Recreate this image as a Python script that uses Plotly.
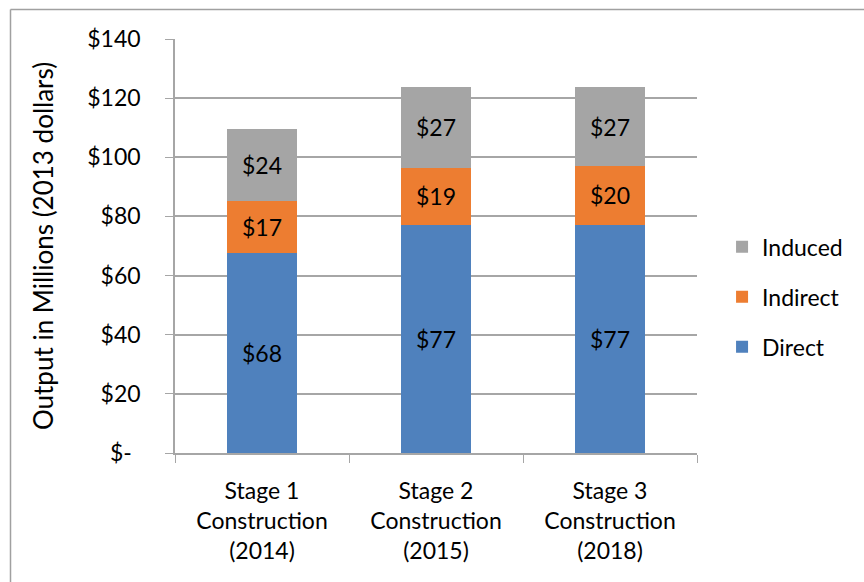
import plotly.graph_objects as go

categories = ["Stage 1<br>Construction<br>(2014)", "Stage 2<br>Construction<br>(2015)", "Stage 3<br>Construction<br>(2018)"]
direct = [67.7, 77.1, 77.1]
indirect = [17.4, 19.4, 20.0]
induced = [24.4, 27.2, 26.6]
ytick_vals = [0, 20, 40, 60, 80, 100, 120, 140]
ytick_text = ["$-\u00a0\u2009", "$20", "$40", "$60", "$80", "$100", "$120", "$140"]

FONT = "Lato"
GRID = "#A6A6A6"

fig = go.Figure()
for name, vals, color, rank in [("Direct", direct, "#4F81BD", 3),
                                ("Indirect", indirect, "#ED7D31", 2),
                                ("Induced", induced, "#A5A5A5", 1)]:
    fig.add_trace(go.Bar(
        x=categories, y=vals, name=name, legendgroup=name, legendrank=rank,
        marker=dict(color=color, line=dict(width=0)),
        texttemplate="$%{y:.0f}", textposition="inside",
        insidetextanchor="middle",
        textfont=dict(family=FONT, size=23, color="black"),
    ))

fig.update_layout(
    width=864, height=582,
    barmode="stack", bargap=0.6,
    margin=dict(l=175, r=167, t=39, b=129, autoexpand=False),
    paper_bgcolor="white", plot_bgcolor="white",
    font=dict(family=FONT, size=23, color="black"),
    uniformtext=dict(minsize=10, mode="show"),
    legend=dict(
        x=1.048, y=0.377, xanchor="left", yanchor="middle",
        traceorder="grouped", font=dict(family=FONT, size=23),
        itemwidth=30, tracegroupgap=17,
    ),
    shapes=[
        dict(type="line", xref="paper", yref="paper",
             x0=(10.5 - 175) / 522, x1=(870 - 175) / 522,
             y0=(453 - 9.5) / 414, y1=(453 - 9.5) / 414,
             line=dict(color="#A0A0A0", width=1.5)),
        dict(type="line", xref="paper", yref="paper",
             x0=(10.5 - 175) / 522, x1=(10.5 - 175) / 522,
             y0=(453 - 9.5) / 414, y1=(453 - 590) / 414,
             line=dict(color="#A0A0A0", width=1.5)),
    ],
)

fig.update_xaxes(
    showline=True, linecolor=GRID, linewidth=1.5,
    ticks="outside", tickson="boundaries", ticklen=8, tickcolor=GRID,
    tickfont=dict(family=FONT, size=23),
    ticklabelstandoff=17,
    showgrid=False,
)
fig.update_yaxes(
    range=[0, 140], tickvals=ytick_vals, ticktext=ytick_text,
    showline=True, linecolor=GRID, linewidth=1.5,
    ticks="outside", ticklen=8, tickcolor=GRID,
    showgrid=True, gridcolor=GRID, gridwidth=1.5,
    zeroline=False,
    ticklabelstandoff=20,
    tickfont=dict(family=FONT, size=23),
    title=dict(text="Output in Millions (2013 dollars)", font=dict(family=FONT, size=26), standoff=26),
)

fig.write_html("out.html")
